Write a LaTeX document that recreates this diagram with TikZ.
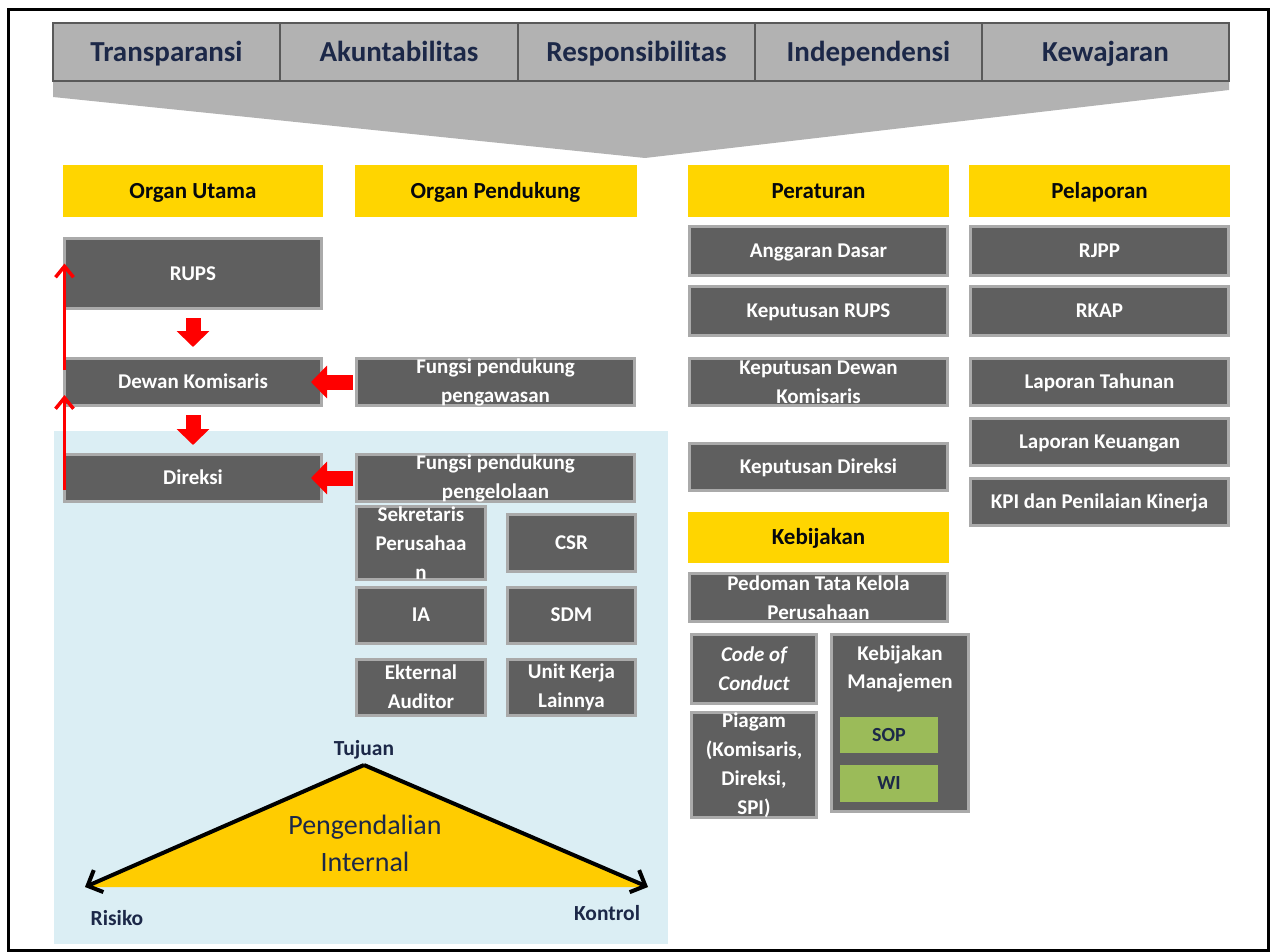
\documentclass[tikz,border=0pt]{standalone}
\usepackage{fontspec}
\setmainfont{Carlito}
\usetikzlibrary{arrows.meta,positioning}
\definecolor{bargrey}{RGB}{178,178,178}
\definecolor{boxgrey}{RGB}{95,95,95}
\definecolor{rimgrey}{RGB}{170,170,170}
\definecolor{ylw}{RGB}{255,213,0}
\definecolor{tri}{RGB}{255,204,0}
\definecolor{navy}{RGB}{28,40,72}
\definecolor{pale}{RGB}{219,238,244}
\definecolor{leaf}{RGB}{155,187,89}
\begin{document}
\begin{tikzpicture}[x=1pt,y=-1pt]
          \tikzstyle{flat} = [text height=13.5pt, text depth=0pt]
          \tikzstyle{pillar} = [rectangle, text height=18.7pt, text depth=0pt, draw=gray!70!black, line width=2.5pt, fill=bargrey, text=navy, minimum height=58pt, inner sep=0pt, font=\bfseries\fontsize{29}{30}\selectfont]
          \tikzstyle{head} = [rectangle, text height=14.8pt, text depth=0pt, fill=ylw, text=black!80!navy, minimum height=51pt, inner sep=0pt, font=\bfseries\fontsize{23}{26}\selectfont]
          \tikzstyle{unit} = [rectangle, draw=rimgrey, line width=3pt, fill=boxgrey, text=white, align=center, inner sep=0pt, font=\bfseries\fontsize{21}{29}\selectfont]
          \tikzstyle{sub} = [rectangle, text height=12.9pt, text depth=0pt, fill=leaf, text=navy, minimum width=98pt, inner sep=0pt, font=\bfseries\fontsize{20}{22}\selectfont]
          \tikzstyle{block} = [draw=red, line width=15pt, -{Triangle[width=32pt,length=16pt]}]
          \tikzstyle{back} = [draw=red, line width=3.5pt, -{Straight Barb[length=11pt,width=18pt]}]
          \tikzstyle{side} = [draw=black, line width=4pt, -{Straight Barb[length=12pt,width=24pt]}]
          \tikzstyle{word} = [text=navy, font=\bfseries\fontsize{21.5}{24}\selectfont]
        \useasboundingbox (0,0) rectangle (1271,952);
        % frame and background
        \draw[line width=3pt] (8,10) rectangle (1268,950);
        \fill[pale] (54,431) rectangle (668,944);
        \fill[bargrey] (53,82) -- (1229,82) -- (1229,90) -- (645,158) -- (53,97) -- cycle;
        % prinsip
        \node[pillar, minimum width=227pt] (p1) at (166.5,52) {Transparansi};
        \node[pillar, minimum width=238pt] (p2) at (399,52) {Akuntabilitas};
        \node[pillar, minimum width=237pt] (p3) at (636.5,52) {Responsibilitas};
        \node[pillar, minimum width=227pt] (p4) at (868.5,52) {Independensi};
        \node[pillar, minimum width=247pt] (p5) at (1105.5,52) {Kewajaran};
        % judul kolom
        \node[head, minimum width=260pt] (h1) at (193,191) {Organ Utama};
        \node[head, minimum width=282pt] (h2) at (495.5,191) {Organ Pendukung};
        \node[head, minimum width=261pt] (h3) at (818.5,191) {Peraturan};
        \node[head, minimum width=261pt] (h4) at (1099.5,191) {Pelaporan};
        % organ utama
        \node[unit, flat, minimum width=257pt, minimum height=70pt] (rups) at (193,273.5) {RUPS};
        \node[unit, flat, minimum width=257pt, minimum height=47pt] (dk) at (193,382) {Dewan Komisaris};
        \node[unit, flat, minimum width=257pt, minimum height=47pt] (dir) at (193,478) {Direksi};
        % organ pendukung
        \node[unit, minimum width=278pt, minimum height=47pt] (fp1) at (495.5,382) {Fungsi pendukung\\pengawasan};
        \node[unit, minimum width=278pt, minimum height=47pt] (fp2) at (495.5,478) {Fungsi pendukung\\pengelolaan};
        \node[unit, minimum width=129pt, minimum height=57pt] (sek) at (421,543) {Sekretaris\\Perusahaa\\n};
        \node[unit, flat, minimum width=129pt, minimum height=56pt, below of=sek, node distance=72pt] (ia) {IA};
        \node[unit, minimum width=129pt, minimum height=56pt, below of=ia, node distance=72pt] (ea) {Ekternal\\Auditor};
        \node[unit, flat, minimum width=128pt, minimum height=57pt] (csr) at (571.5,543) {CSR};
        \node[unit, flat, minimum width=128pt, minimum height=56pt, below of=csr, node distance=72pt] (sdm) {SDM};
        \node[unit, minimum width=128pt, minimum height=56pt, below of=sdm, node distance=72pt] (uk) {Unit Kerja\\Lainnya};
        % peraturan
        \node[unit, flat, minimum width=258pt, minimum height=49pt] (ad) at (818.5,251) {Anggaran Dasar};
        \node[unit, flat, minimum width=258pt, minimum height=49pt, below of=ad, node distance=60pt] (krups) {Keputusan RUPS};
        \node[unit, minimum width=258pt, minimum height=47pt] (kdk) at (818.5,382) {Keputusan Dewan\\Komisaris};
        \node[unit, flat, minimum width=258pt, minimum height=47pt] (kdir) at (818.5,467) {Keputusan Direksi};
        \node[head, minimum width=261pt] (kb) at (818.5,537.5) {Kebijakan};
        \node[unit, minimum width=258pt, minimum height=48pt] (ptk) at (818.5,597.5) {Pedoman Tata Kelola\\Perusahaan};
        \node[unit, minimum width=125pt, minimum height=69pt] (coc) at (754,669) {\itshape Code of\\\itshape Conduct};
        \node[unit, minimum width=125pt, minimum height=93pt] (pg) at (754,765) {Piagam\\(Komisaris,\\Direksi,\\SPI)};
        \node[unit, minimum width=137pt, minimum height=177pt] (km) at (900,723) {};
        \node[text=white, align=center, font=\bfseries\fontsize{21}{28}\selectfont, below=9pt of km.north] (kmt) {Kebijakan\\Manajemen};
        \node[sub, minimum height=36pt] (sop) at (889,735) {SOP};
        \node[sub, minimum height=37pt] (wi) at (889,783.5) {WI};
        % pelaporan
        \node[unit, flat, minimum width=258pt, minimum height=49pt] (rjpp) at (1099.5,251) {RJPP};
        \node[unit, flat, minimum width=258pt, minimum height=49pt, below of=rjpp, node distance=60pt] (rkap) {RKAP};
        \node[unit, flat, minimum width=258pt, minimum height=47pt] (lt) at (1099.5,382) {Laporan Tahunan};
        \node[unit, flat, minimum width=258pt, minimum height=47pt, below of=lt, node distance=60pt] (lk) {Laporan Keuangan};
        \node[unit, flat, minimum width=258pt, minimum height=47pt, below of=lk, node distance=60pt] (kpi) {KPI dan Penilaian Kinerja};
        % panah
        \draw[block, shorten <=8pt, shorten >=10pt] (rups) -- (dk);
        \draw[block, shorten <=8pt, shorten >=8pt] (dk) -- (dir);
        \draw[block, shorten <=2pt, shorten >=-12pt] (fp1) -- (dk);
        \draw[block, shorten <=2pt, shorten >=-12pt] (fp2) -- (dir);
        \draw[back] ([xshift=1.5pt,yshift=12pt]dk.west) -- ([xshift=1.5pt,yshift=10pt]rups.west);
        \draw[back] ([xshift=1.5pt,yshift=-12pt]dir.west) -- ([xshift=1.5pt,yshift=-13pt]dk.west);
        % pengendalian internal
        \coordinate (apex) at (364,765);
        \coordinate (kiri) at (85,887);
        \coordinate (kanan) at (648,887);
        \fill[tri] (apex) -- (kiri) -- (kanan) -- cycle;
        \draw[side] (apex) -- (kiri);
        \draw[side] (apex) -- (kanan);
        \node[text=navy, align=center, font=\fontsize{28}{37}\selectfont] (pi) at (365,843.5) {Pengendalian\\Internal};
        \node[word, above=2pt of apex] (tuj) {Tujuan};
        \node[word] (ris) at (117,918) {Risiko};
        \node[word] (kon) at (607,913) {Kontrol};
      \end{tikzpicture}
\end{document}
